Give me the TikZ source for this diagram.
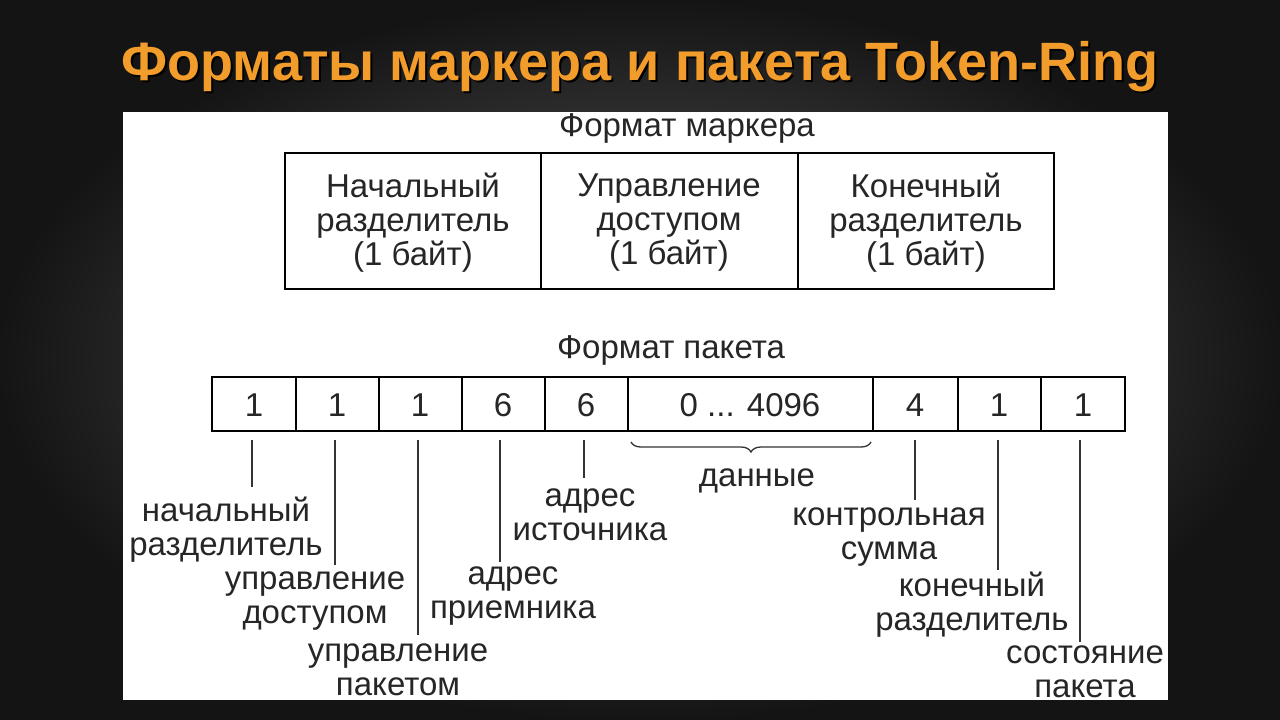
\documentclass[tikz,border=0pt]{standalone}
\usepackage{fontspec}
\setmainfont{Liberation Sans}
\usetikzlibrary{decorations.pathreplacing}
\begin{document}
\begin{tikzpicture}[x=1pt,y=-1pt,
  cell/.style={draw=black,line width=1.6pt},
  txt/.style={font=\fontsize{33}{34}\selectfont,align=center,inner sep=0pt,text=black!85},
  lead/.style={line width=1.3pt,black!80}]
\useasboundingbox (0,0) rectangle (1280,720);
\fill[black!92] (0,0) rectangle (1280,720);
\shade[inner color=black!62,outer color=black!92] (0,0) rectangle (1280,720);
\node[font=\bfseries\fontsize{54}{56}\selectfont,text=black] at (642,69) (ts) {Форматы маркера и пакета Token-Ring};
\node[font=\bfseries\fontsize{54}{56}\selectfont,text={rgb,255:red,242;green,156;blue,44}] at (640,67) (title) {Форматы маркера и пакета Token-Ring};
\fill[white] (123,112) rectangle (1168,700);
\begin{scope}
\clip (123,112) rectangle (1168,700);
\node[txt] (fm) at (687,128) {Формат маркера};
\draw[cell] (285,153) rectangle (1054,289);
\draw[cell] (541,153) -- (541,289);
\draw[cell] (798,153) -- (798,289);
\node[txt] (m1) at (413,223) {Начальный\\разделитель\\(1 байт)};
\node[txt] (m2) at (669,223) {Управление\\доступом\\(1 байт)};
\node[txt] (m3) at (926,223) {Конечный\\разделитель\\(1 байт)};
\node[txt] (fp) at (671,350) {Формат пакета};
\draw[cell] (212,377) rectangle (1125,431);
\foreach \x in {296,379,462,545,628,873,958,1041} \draw[cell] (\x,377) -- (\x,431);
\foreach \t/\x in {1/254,1/337,1/420,6/503,6/586,4/915,1/999,1/1083} \node[txt] at (\x,405) {\t};
\node[txt] (d) at (750,405) {0 ... 4096};
\draw[lead,decorate,decoration={brace,mirror,amplitude=10pt}] (631,442) -- (871,442);
\node[txt] at (757,481) {данные};
\foreach \x/\e in {252/487,335/565,418/635,500/562,584/478,915/500,998/570,1080/642} \draw[lead] (\x,440) -- (\x,\e);
\node[txt] at (226,530) {начальный\\разделитель};
\node[txt] at (315,601) {управление\\доступом};
\node[txt] at (398,670) {управление\\пакетом};
\node[txt] at (513,596) {адрес\\приемника};
\node[txt] at (590,515) {адрес\\источника};
\node[txt] at (889,537) {контрольная\\сумма};
\node[txt] at (972,605) {конечный\\разделитель};
\node[txt] at (1085,672) {состояние\\пакета};
\end{scope}
\end{tikzpicture}
\end{document}
